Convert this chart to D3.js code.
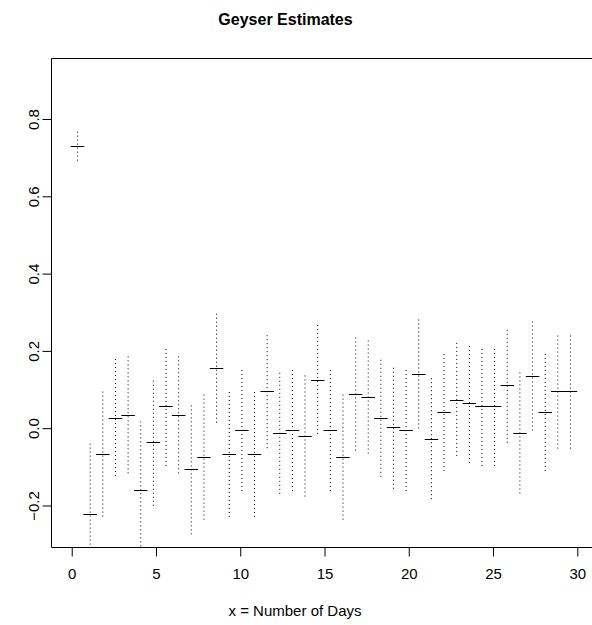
<!DOCTYPE html>
<html>
<head>
<meta charset="utf-8">
<script src="https://cdnjs.cloudflare.com/ajax/libs/d3/7.8.5/d3.min.js"></script>
<style>
    body { margin: 0; background: #fff; overflow: hidden; }
    svg { display: block; font-family: "Liberation Sans", Arial, Helvetica, sans-serif; }
</style>
</head>
<body>
<div id="chart"></div>
<script>
// Data
const days = [0.375, 1.125, 1.875, 2.625, 3.375, 4.125, 4.875, 5.625, 6.375, 7.125,
              7.875, 8.625, 9.375, 10.125, 10.875, 11.625, 12.375, 13.125, 13.875, 14.625,
              15.375, 16.125, 16.875, 17.625, 18.375, 19.125, 19.875, 20.625, 21.375, 22.125,
              22.875, 23.625, 24.375, 25.125, 25.875, 26.625, 27.375, 28.125, 28.875, 29.625];
const estimates = [0.728, -0.223, -0.068, 0.025, 0.032, -0.161, -0.038, 0.055, 0.032, -0.108,
                   -0.077, 0.155, -0.069, -0.007, -0.069, 0.094, -0.015, -0.007, -0.022, 0.124,
                   -0.007, -0.077, 0.086, 0.079, 0.024, 0.001, -0.007, 0.140, -0.030, 0.040,
                   0.071, 0.063, 0.055, 0.055, 0.110, -0.015, 0.133, 0.040, 0.094, 0.094];
const lower = [0.691, -0.406, -0.230, -0.125, -0.118, -0.338, -0.202, -0.099, -0.118, -0.276,
               -0.238, 0.013, -0.231, -0.164, -0.231, -0.053, -0.171, -0.164, -0.178, -0.016,
               -0.164, -0.238, -0.059, -0.067, -0.127, -0.158, -0.164, -0.002, -0.185, -0.112,
               -0.073, -0.091, -0.099, -0.099, -0.039, -0.170, -0.007, -0.112, -0.054, -0.054];
const upper = [0.768, -0.040, 0.100, 0.183, 0.190, 0.016, 0.128, 0.210, 0.192, 0.065,
               0.092, 0.299, 0.100, 0.155, 0.100, 0.245, 0.149, 0.155, 0.141, 0.274,
               0.155, 0.092, 0.238, 0.231, 0.183, 0.161, 0.155, 0.286, 0.135, 0.198,
               0.224, 0.218, 0.211, 0.211, 0.260, 0.149, 0.280, 0.198, 0.245, 0.245];
const xTicks = [0, 5, 10, 15, 20, 25, 30];
const yTicks = [-0.2, 0.0, 0.2, 0.4, 0.6, 0.8];
const halfWidth = 0.4; // half length of the estimate dash, in days

const data = days.map((d, i) => ({x: d, est: estimates[i], lo: lower[i], hi: upper[i]}));

const width = 592, height = 625;
const plot = {left: 51, top: 58, right: 597, bottom: 547};

const svg = d3.select("#chart").append("svg")
    .attr("width", width)
    .attr("height", height);

const x = d3.scaleLinear().domain([-1.2, 31.2]).range([plot.left, plot.right]);
const y = d3.scaleLinear().domain([-0.3087, 0.9566]).range([plot.bottom, plot.top]);

// Clip marks to the plot region
svg.append("clipPath").attr("id", "clip")
  .append("rect")
    .attr("x", plot.left).attr("y", plot.top)
    .attr("width", plot.right - plot.left)
    .attr("height", plot.bottom - plot.top);

const g = svg.append("g").attr("clip-path", "url(#clip)");

// Dotted interval lines
g.selectAll("line.ci")
    .data(data)
    .enter()
    .append("line")
    .attr("class", "ci")
    .attr("x1", d => x(d.x))
    .attr("x2", d => x(d.x))
    .attr("y1", d => y(d.lo))
    .attr("y2", d => y(d.hi))
    .attr("stroke", "#000")
    .attr("stroke-width", 1)
    .attr("stroke-dasharray", "1,3");

// Estimate dashes
g.selectAll("line.est")
    .data(data)
    .enter()
    .append("line")
    .attr("class", "est")
    .attr("x1", d => x(d.x - halfWidth))
    .attr("x2", d => x(d.x + halfWidth))
    .attr("y1", d => Math.round(y(d.est)) + 0.5)
    .attr("y2", d => Math.round(y(d.est)) + 0.5)
    .attr("stroke", "#000")
    .attr("stroke-width", 1);

// Box: left, top and bottom sides (right side falls outside the window)
svg.append("path")
    .attr("d", `M${plot.right},${plot.top + 0.5}H${plot.left + 0.5}V${plot.bottom + 0.5}H${plot.right}`)
    .attr("fill", "none")
    .attr("stroke", "#000")
    .attr("stroke-width", 1);

// Axes, R style: line spans first to last tick
const xAxis = svg.append("g")
    .attr("transform", `translate(0.5,${plot.bottom + 0.5})`)
    .call(d3.axisBottom(x).tickValues(xTicks).tickSize(9).tickPadding(12).tickFormat(d3.format("d")));
xAxis.select(".domain")
    .attr("d", `M${x(xTicks[0])},0H${x(xTicks[xTicks.length - 1])}`);

const yAxis = svg.append("g")
    .attr("transform", `translate(${plot.left + 0.5},0.5)`)
    .call(d3.axisLeft(y).tickValues(yTicks).tickSize(9)
        .tickFormat(d => d3.format(".1f")(d).replace("-", "\u2212")));
yAxis.select(".domain")
    .attr("d", `M0,${y(yTicks[0])}V${y(yTicks[yTicks.length - 1])}`);

svg.selectAll(".tick text")
    .attr("font-size", 15)
    .attr("font-family", "Liberation Sans, Arial, sans-serif")
    .attr("fill", "#000");
svg.selectAll(".tick line, .domain").attr("stroke", "#000");

// Rotate y labels to read bottom to top
yAxis.selectAll(".tick text")
    .attr("x", null).attr("dy", null)
    .attr("text-anchor", "middle")
    .attr("transform", "translate(-13,0) rotate(-90)");

// Title and x label
svg.append("text")
    .attr("x", 285.5)
    .attr("y", 25)
    .attr("text-anchor", "middle")
    .attr("font-size", 16)
    .attr("font-weight", "bold")
    .text("Geyser Estimates");

svg.append("text")
    .attr("x", 295)
    .attr("y", 616)
    .attr("text-anchor", "middle")
    .attr("font-size", 15)
    .text("x = Number of Days");
</script>
</body>
</html>
